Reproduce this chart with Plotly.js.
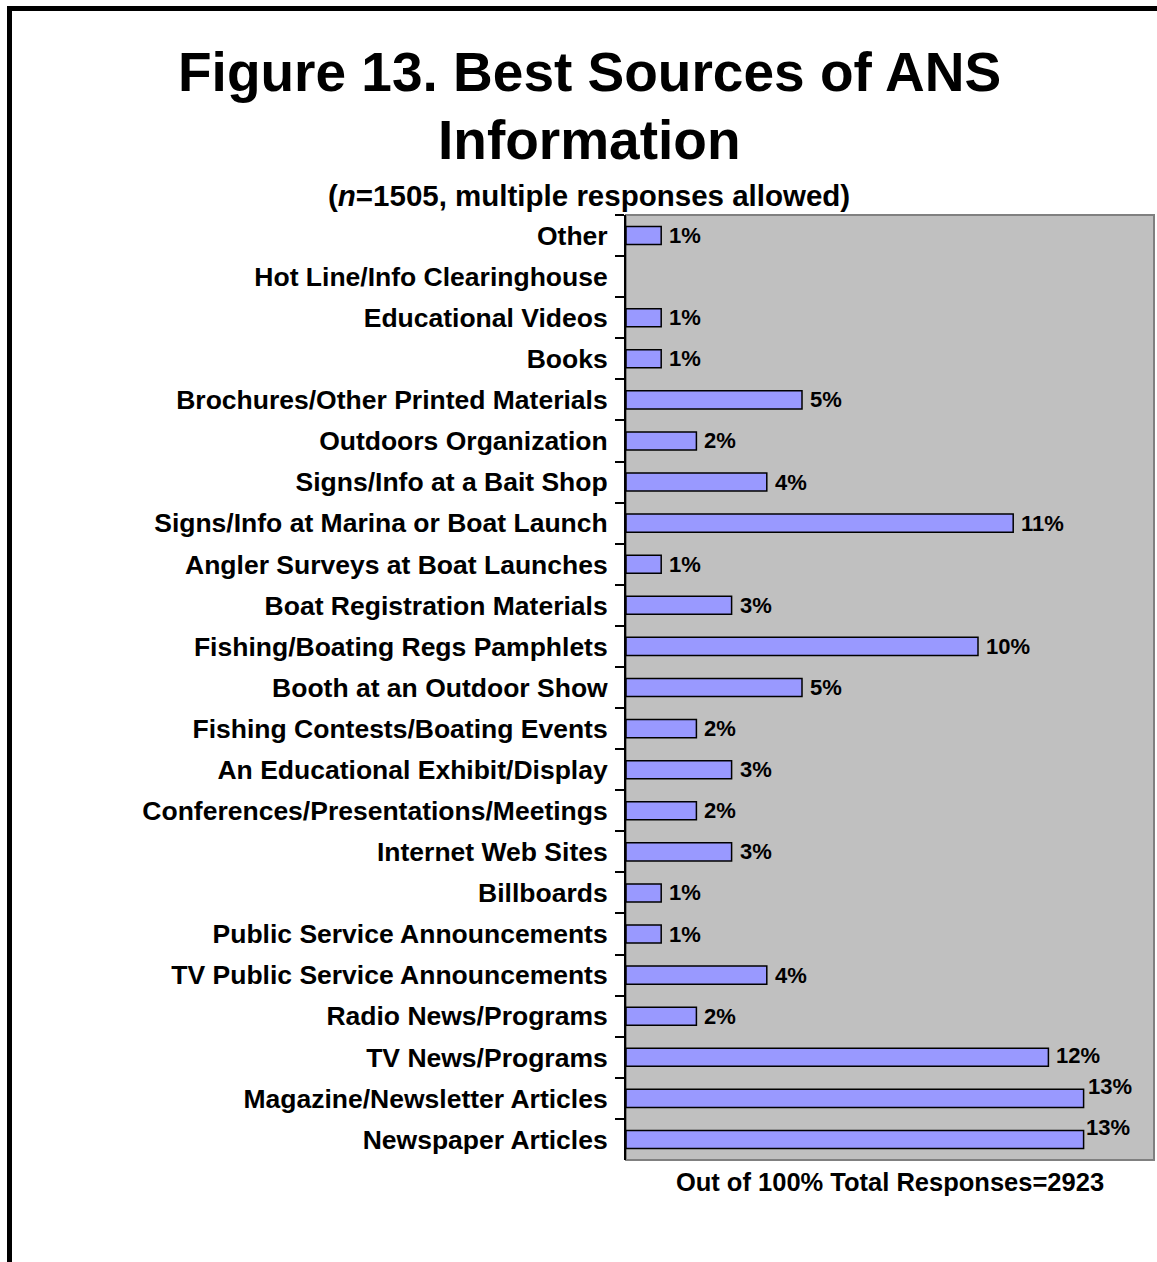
<!DOCTYPE html>
<html>
<head>
<meta charset="utf-8">
<script src="https://cdn.plot.ly/plotly-3.0.1.min.js"></script>
<style>
  html, body { margin: 0; padding: 0; background: #ffffff; }
  #chart { width: 1157px; height: 1262px; }
</style>
</head>
<body>
<div id="chart"></div>
<script>
// ---- data (top to bottom as shown) ----
const categories = [
  "Other",
  "Hot Line/Info Clearinghouse",
  "Educational Videos",
  "Books",
  "Brochures/Other Printed Materials",
  "Outdoors Organization",
  "Signs/Info at a Bait Shop",
  "Signs/Info at Marina or Boat Launch",
  "Angler Surveys at Boat Launches",
  "Boat Registration Materials",
  "Fishing/Boating Regs Pamphlets",
  "Booth at an Outdoor Show",
  "Fishing Contests/Boating Events",
  "An Educational Exhibit/Display",
  "Conferences/Presentations/Meetings",
  "Internet Web Sites",
  "Billboards",
  "Public Service Announcements",
  "TV Public Service Announcements",
  "Radio News/Programs",
  "TV News/Programs",
  "Magazine/Newsletter Articles",
  "Newspaper Articles"
];
const percentValues = [1, null, 1, 1, 5, 2, 4, 11, 1, 3, 10, 5, 2, 3, 2, 3, 1, 1, 4, 2, 12, 13, 13];
const valueLabels = ["1%", "", "1%", "1%", "5%", "2%", "4%", "11%", "1%", "3%", "10%", "5%", "2%", "3%", "2%", "3%", "1%", "1%", "4%", "2%", "12%", "13%", "13%"];
const titleLines = ["Figure 13. Best Sources of ANS", "Information"];
const subtitleText = "(<i>n</i>=1505, multiple responses allowed)";
const xAxisTitle = "Out of 100% Total Responses=2923";

// ---- layout geometry ----
const W = 1157, H = 1262;
const L = 626, R = 1154, T = 215, B = 1160;
const pw = R - L, ph = B - T;
const px = v => (v - L) / pw;
const py = v => (B - v) / ph;
const FONT = "Liberation Sans, Arial, Helvetica, sans-serif";

const trace = {
  type: "bar",
  orientation: "h",
  y: categories,
  x: percentValues,
  marker: { color: "#9999FF", line: { color: "#000000", width: 1.5 } },
  width: 0.44,
  hoverinfo: "x+y"
};

// value labels via annotations anchored on the data
const labelShift = categories.map((c, i) => {
  if (valueLabels[i] === "13%") return { xs: i === categories.length - 1 ? 0 : 2, ys: 12 };
  if (valueLabels[i] === "12%") return { xs: 6, ys: 2 };
  return { xs: 6, ys: 0 };
});
const valueAnnotations = categories.map((c, i) => ({
  x: percentValues[i] === null ? 0 : percentValues[i],
  y: c,
  xref: "x", yref: "y",
  text: valueLabels[i],
  showarrow: false,
  xanchor: "left", yanchor: "middle",
  xshift: labelShift[i].xs, yshift: labelShift[i].ys,
  font: { family: FONT, size: 22, color: "#000000", weight: "bold" }
})).filter(a => a.text !== "");

const textAnnotations = [
  { text: "<b>" + titleLines[0] + "</b>", x: px(589), y: py(72) },
  { text: "<b>" + titleLines[1] + "</b>", x: px(589), y: py(140) }
].map(a => Object.assign(a, {
  xref: "paper", yref: "paper", showarrow: false,
  xanchor: "center", yanchor: "middle",
  font: { family: FONT, size: 55, color: "#000000" }
}));
textAnnotations.push({
  text: "<b>" + subtitleText + "</b>", x: px(589), y: py(196),
  xref: "paper", yref: "paper", showarrow: false,
  xanchor: "center", yanchor: "middle",
  font: { family: FONT, size: 29.5, color: "#000000" }
});

const layout = {
  width: W, height: H,
  margin: { l: L, r: W - R, t: T, b: H - B, pad: 0 },
  paper_bgcolor: "#ffffff",
  plot_bgcolor: "#C0C0C0",
  showlegend: false,
  font: { family: FONT, color: "#000000" },
  bargap: 0.56,
  xaxis: {
    range: [0, 15],
    showgrid: false, zeroline: false,
    showticklabels: false, ticks: "",
    showline: false,
    fixedrange: true,
    automargin: false,
    title: { text: "<b>" + xAxisTitle + "</b>", font: { family: FONT, size: 25.5, color: "#000000" }, standoff: 13 }
  },
  yaxis: {
    type: "category",
    range: [categories.length - 0.5, -0.5],
    showgrid: false, zeroline: false,
    showline: true, linecolor: "#000000", linewidth: 2,
    ticks: "outside", tickson: "boundaries", ticklen: 9, tickwidth: 2, tickcolor: "#000000",
    tickfont: { family: FONT, size: 26.5, color: "#000000", weight: "bold" },
    ticklabelstandoff: 11,
    automargin: false,
    fixedrange: true
  },
  shapes: [
    { type: "rect", xref: "paper", yref: "paper", x0: 0, x1: 1, y0: 0, y1: 1,
      line: { color: "#808080", width: 2 }, layer: "below" },
    { type: "path", xref: "paper", yref: "paper",
      path: "M " + px(9.5) + " " + py(H + 20) + " L " + px(9.5) + " " + py(8.5) + " L " + px(W + 20) + " " + py(8.5),
      line: { color: "#000000", width: 5 } }
  ],
  annotations: textAnnotations.concat(valueAnnotations)
};

Plotly.newPlot("chart", [trace], layout, { displayModeBar: false, staticPlot: true });
</script>
</body>
</html>
